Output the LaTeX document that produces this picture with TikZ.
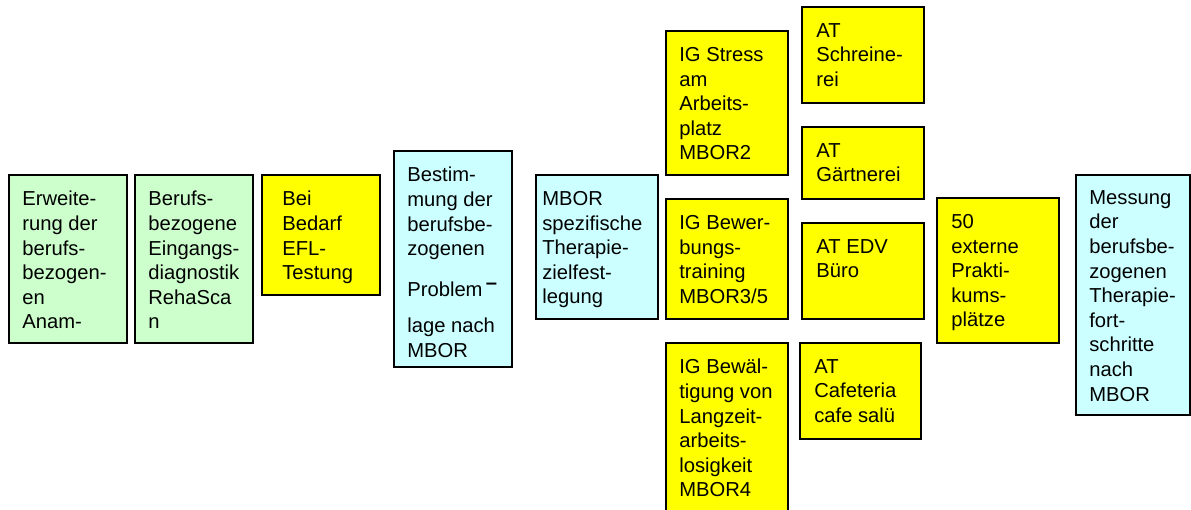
\documentclass[tikz,border=0pt]{standalone}
\usepackage{fontspec}
\setmainfont{Liberation Sans}
\definecolor{boxgreen}{HTML}{CCFFCC}
\definecolor{boxyellow}{HTML}{FFFF00}
\definecolor{boxcyan}{HTML}{CCFFFF}

\begin{document}
\begin{tikzpicture}[x=0.02cm, y=-0.02cm,
	box/.style={draw=black, line width=1.1pt},
	txt/.style={anchor=north west, align=left, inner sep=0pt,
		font={\fontsize{11.5pt}{14pt}\selectfont}}]
	\useasboundingbox (0,0) rectangle (1191,510);

	% entry diagnostics
	\filldraw[box, fill=boxgreen] (9,175) rectangle (127,343);
	\node[txt] (anamnese) at (22,191) {Erweite-\\rung der\\berufs-\\bezogen-\\en\\Anam-};
	\filldraw[box, fill=boxgreen] (135,175) rectangle (253,343);
	\node[txt] (rehascan) at (148,191) {Berufs-\\bezogene\\Eingangs-\\diagnostik\\RehaSca\\n};
	\filldraw[box, fill=boxyellow] (262,175) rectangle (380,295);
	\node[txt] (efl) at (282,191) {Bei\\Bedarf\\EFL-\\Testung};

	% problem and goals
	\filldraw[box, fill=boxcyan] (394,151) rectangle (512,367);
	\node[txt] (problemlage) at (407,167) {Bestim-\\mung der\\berufsbe-\\zogenen\\[0.33cm]Problem\,\raisebox{0.15cm}{\textbf{--}}\\[0.23cm]lage nach\\MBOR};
	\filldraw[box, fill=boxcyan] (536,175) rectangle (658,319);
	\node[txt] (ziele) at (542,191) {MBOR\\spezifische\\Therapie-\\zielfest-\\legung};

	% indication groups
	\filldraw[box, fill=boxyellow] (666,31) rectangle (788,175);
	\node[txt] (stress) at (679,47) {IG Stress\\am\\Arbeits-\\platz\\MBOR2};
	\filldraw[box, fill=boxyellow] (666,199) rectangle (788,319);
	\node[txt] (bewerbung) at (679,215) {IG Bewer-\\bungs-\\training\\MBOR3/5};
	\filldraw[box, fill=boxyellow] (666,343) rectangle (788,530);
	\node[txt] (langzeit) at (679,359) {IG Bewäl-\\tigung von\\Langzeit-\\arbeits-\\losigkeit\\MBOR4};

	% work therapy
	\filldraw[box, fill=boxyellow] (802,7) rectangle (924,103);
	\node[txt] (schreinerei) at (816,23) {AT\\Schreine-\\rei};
	\filldraw[box, fill=boxyellow] (802,127) rectangle (924,199);
	\node[txt] (gaertnerei) at (816,143) {AT\\Gärtnerei};
	\filldraw[box, fill=boxyellow] (802,223) rectangle (924,319);
	\node[txt] (edv) at (816,239) {AT EDV\\Büro};
	\filldraw[box, fill=boxyellow] (800,343) rectangle (921,439);
	\node[txt] (cafeteria) at (814,359) {AT\\Cafeteria\\cafe salü};

	% internships and outcome
	\filldraw[box, fill=boxyellow] (937,198) rectangle (1059,343);
	\node[txt] (praktikum) at (951,214) {50\\externe\\Prakti-\\kums-\\plätze};
	\filldraw[box, fill=boxcyan] (1076,175) rectangle (1190,415);
	\node[txt] (messung) at (1089,190) {Messung\\der\\berufsbe-\\zogenen\\Therapie-\\fort-\\schritte\\nach\\MBOR};
\end{tikzpicture}
\end{document}
